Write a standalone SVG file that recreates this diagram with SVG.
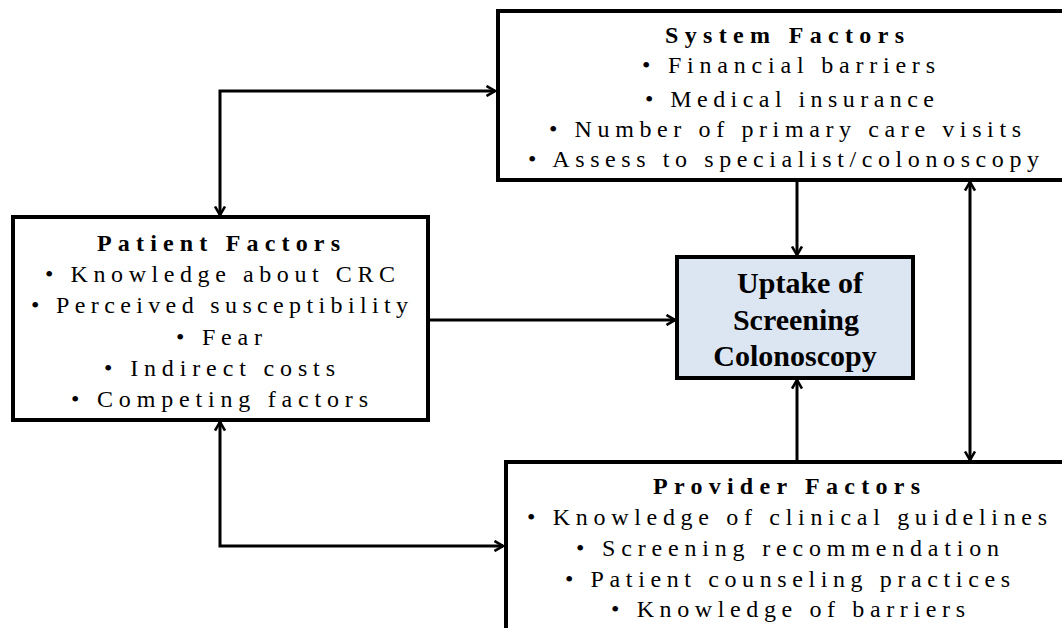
<svg xmlns="http://www.w3.org/2000/svg" width="1062" height="628" viewBox="0 0 1062 628">
<style>
.box{fill:#fff;stroke:#000;stroke-width:4}
.core{fill:#dce6f2;stroke:#000;stroke-width:4}
.t{font-family:"Liberation Serif","Times New Roman",serif;font-size:24px;fill:#000}
.h{font-family:"Liberation Serif","Times New Roman",serif;font-size:24px;font-weight:bold;fill:#000}
.u{font-family:"Liberation Serif","Times New Roman",serif;font-size:30px;font-weight:bold;fill:#000;text-anchor:middle}
.c{fill:none;stroke:#000;stroke-width:3}
</style>
<defs>
<marker id="arr" viewBox="0 0 10 12" refX="9.5" refY="6" markerWidth="10" markerHeight="12" markerUnits="userSpaceOnUse" orient="auto-start-reverse">
<path d="M1,1 L9.5,6 L1,11" fill="none" stroke="#000" stroke-width="2.6"/>
</marker>
</defs>
<g id="connectors">
<path class="c" d="M220,215 V91 H495" marker-start="url(#arr)" marker-end="url(#arr)"/>
<path class="c" d="M220,422 V546 H503" marker-start="url(#arr)" marker-end="url(#arr)"/>
<path class="c" d="M428,320 H675"  marker-end="url(#arr)"/>
<path class="c" d="M797,182 V255"  marker-end="url(#arr)"/>
<path class="c" d="M797,460 V380"  marker-end="url(#arr)"/>
<path class="c" d="M970,182 V460" marker-start="url(#arr)" marker-end="url(#arr)"/>
</g>
<g id="system">
<rect class="box" x="498" y="11" width="600" height="169"/>
<text class="h" x="665" y="43" textLength="239" lengthAdjust="spacing">System Factors</text>
<text class="t" x="642" y="73" textLength="293" lengthAdjust="spacing">•  Financial barriers</text>
<text class="t" x="645" y="107" textLength="289" lengthAdjust="spacing">• Medical insurance</text>
<text class="t" x="549" y="137" textLength="472" lengthAdjust="spacing">• Number of primary care visits</text>
<text class="t" x="528" y="167" textLength="511" lengthAdjust="spacing">•  Assess to specialist/colonoscopy</text>
</g>
<g id="patient">
<rect class="box" x="13" y="217" width="415" height="203"/>
<text class="h" x="97" y="251" textLength="243" lengthAdjust="spacing">Patient Factors</text>
<text class="t" x="45" y="282" textLength="350" lengthAdjust="spacing">• Knowledge about CRC</text>
<text class="t" x="31" y="313" textLength="377" lengthAdjust="spacing">• Perceived susceptibility</text>
<text class="t" x="176" y="345" textLength="86" lengthAdjust="spacing">• Fear</text>
<text class="t" x="104" y="376" textLength="231" lengthAdjust="spacing">•  Indirect costs</text>
<text class="t" x="71" y="407" textLength="297" lengthAdjust="spacing">•  Competing factors</text>
</g>
<g id="uptake">
<rect class="core" x="677" y="257" width="236" height="121"/>
<text class="u" x="800" y="293">Uptake of</text>
<text class="u" x="796" y="330">Screening</text>
<text class="u" x="795" y="366">Colonoscopy</text>
</g>
<g id="provider">
<rect class="box" x="506" y="462" width="600" height="200"/>
<text class="h" x="653" y="494" textLength="267" lengthAdjust="spacing">Provider Factors</text>
<text class="t" x="527" y="525" textLength="520" lengthAdjust="spacing">•  Knowledge of clinical guidelines</text>
<text class="t" x="576" y="556" textLength="423" lengthAdjust="spacing">•  Screening recommendation</text>
<text class="t" x="565" y="587" textLength="445" lengthAdjust="spacing">•  Patient counseling practices</text>
<text class="t" x="611" y="617" textLength="354" lengthAdjust="spacing">•  Knowledge of barriers</text>
</g>
</svg>
